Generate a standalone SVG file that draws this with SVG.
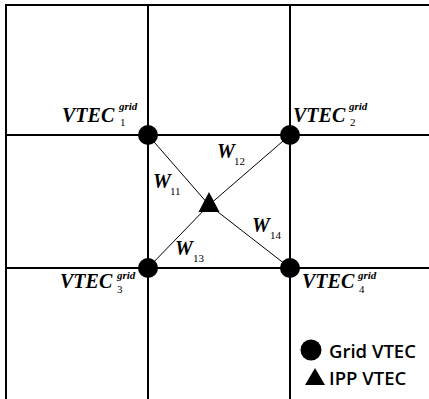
<svg xmlns="http://www.w3.org/2000/svg" width="429" height="399" viewBox="0 0 429 399">
<style>
.g{stroke:#000;stroke-width:2;fill:none}
.d{stroke:#000;stroke-width:1;fill:none}
.v{font-family:"Liberation Serif",serif;font-weight:bold;font-style:italic;font-size:20px;fill:#000}
.sup{font-family:"Liberation Serif",serif;font-style:italic;font-weight:bold;font-size:11px;fill:#000}
.sub{font-family:"Liberation Serif",serif;font-size:11px;fill:#000}
.lg{font-family:"Open Sans",sans-serif;font-weight:600;font-size:18.5px;fill:#000}
</style>
<rect width="429" height="399" fill="#fff"/>
<g id="grid">
<path class="g" d="M6,399 V5 H429"/>
<path class="g" d="M148,5 V399 M290,5 V399 M6,135 H429 M6,268 H429"/>
</g>
<g id="connectors">
<path class="d" d="M148,135 L209,205 M290,135 L209,205 M148,268 L209,205 M290,268 L209,205"/>
</g>
<g id="node1"><circle cx="148" cy="135" r="10"/>
<text class="v" x="62" y="122">VTEC</text><text class="sup" x="119" y="110">grid</text><text class="sub" x="120" y="126">1</text></g>
<g id="node2"><circle cx="290" cy="135" r="10"/>
<text class="v" x="293" y="122">VTEC</text><text class="sup" x="349" y="110">grid</text><text class="sub" x="350" y="126">2</text></g>
<g id="node3"><circle cx="148" cy="268" r="10"/>
<text class="v" x="60" y="288">VTEC</text><text class="sup" x="117" y="279">grid</text><text class="sub" x="117" y="293">3</text></g>
<g id="node4"><circle cx="290" cy="268" r="10"/>
<text class="v" x="302" y="288">VTEC</text><text class="sup" x="358" y="279">grid</text><text class="sub" x="359" y="293">4</text></g>
<g id="ipp"><polygon points="209,192 198.5,212 219.5,212"/></g>
<g id="weights">
<text class="v" x="153" y="188">W</text><text class="sub" x="170" y="195">11</text>
<text class="v" x="217" y="158">W</text><text class="sub" x="234" y="165">12</text>
<text class="v" x="175" y="255">W</text><text class="sub" x="193" y="262">13</text>
<text class="v" x="252" y="232">W</text><text class="sub" x="270" y="239">14</text>
</g>
<g id="legend">
<circle cx="311" cy="350" r="10.5"/>
<text class="lg" x="329" y="358">Grid VTEC</text>
<polygon points="315,368 305,385 325,385"/>
<text class="lg" x="329" y="385">IPP VTEC</text>
</g>
</svg>
